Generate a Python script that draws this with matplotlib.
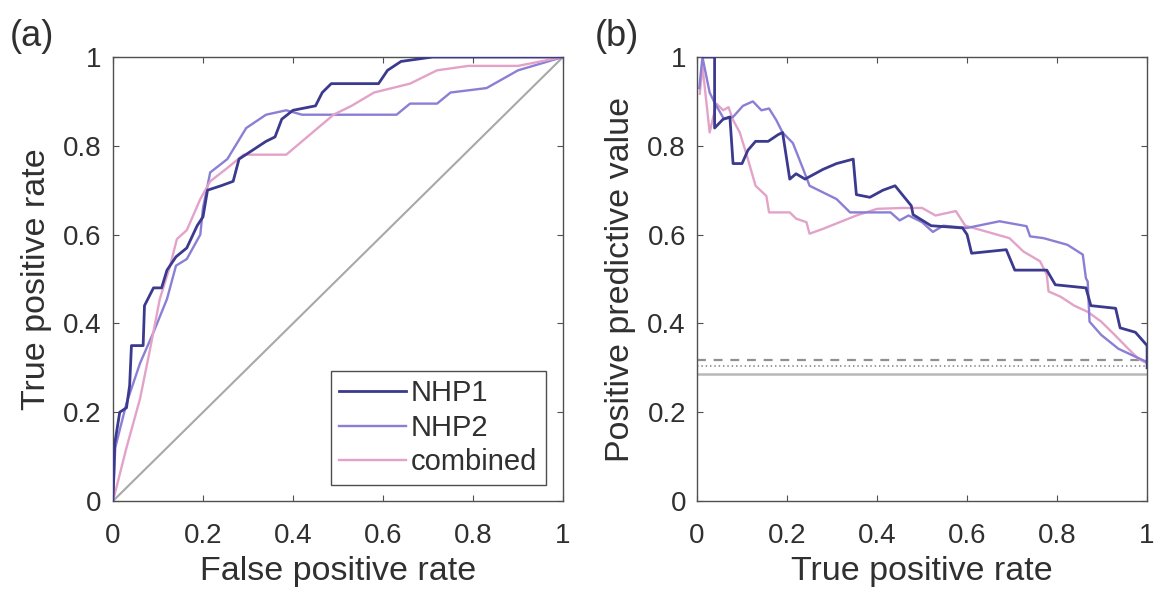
import matplotlib
matplotlib.use("Agg")
import matplotlib.pyplot as plt

plt.rcParams['font.family'] = ['Liberation Sans', 'DejaVu Sans']

# --- Data
# (a) ROC curves
fpr_nhp1 = [0, 0.004, 0.015, 0.03, 0.037, 0.041, 0.067, 0.07, 0.09, 0.108, 0.12, 0.14, 0.164,
            0.187, 0.2, 0.21, 0.24, 0.267, 0.28, 0.31, 0.34, 0.36, 0.375, 0.40, 0.45, 0.465,
            0.485, 0.59, 0.61, 0.64, 0.71, 1.0]
tpr_nhp1 = [0, 0.13, 0.2, 0.21, 0.26, 0.35, 0.35, 0.44, 0.48, 0.48, 0.52, 0.55, 0.57,
            0.62, 0.64, 0.70, 0.71, 0.72, 0.77, 0.79, 0.81, 0.82, 0.86, 0.88, 0.89, 0.92,
            0.94, 0.94, 0.97, 0.99, 1.0, 1.0]

fpr_nhp2 = [0, 0.005, 0.03, 0.06, 0.09, 0.12, 0.14, 0.164, 0.194, 0.2, 0.216, 0.254, 0.296,
            0.34, 0.385, 0.42, 0.63, 0.66, 0.72, 0.75, 0.83, 0.90, 1.0]
tpr_nhp2 = [0, 0.12, 0.22, 0.31, 0.38, 0.455, 0.53, 0.545, 0.6, 0.66, 0.74, 0.77, 0.84,
            0.87, 0.88, 0.87, 0.87, 0.895, 0.895, 0.92, 0.93, 0.97, 1.0]

fpr_comb = [0, 0.03, 0.06, 0.082, 0.104, 0.127, 0.142, 0.164, 0.194, 0.216, 0.254, 0.29,
            0.385, 0.42, 0.455, 0.49, 0.53, 0.58, 0.66, 0.72, 0.79, 0.90, 1.0]
tpr_comb = [0, 0.12, 0.23, 0.34, 0.455, 0.53, 0.59, 0.61, 0.68, 0.72, 0.75, 0.78,
            0.78, 0.81, 0.84, 0.87, 0.89, 0.92, 0.94, 0.97, 0.98, 0.98, 1.0]

# (b) precision vs recall
tpr_b_nhp1 = [0.013, 0.039, 0.039, 0.058, 0.073, 0.08, 0.1, 0.113, 0.13, 0.158, 0.18, 0.19,
              0.206, 0.22, 0.24, 0.28, 0.31, 0.347, 0.354, 0.384, 0.413, 0.44, 0.476, 0.48,
              0.52, 0.59, 0.6, 0.61, 0.687, 0.706, 0.777, 0.796, 0.864, 0.875, 0.93, 0.94,
              0.974, 1.0, 1.0]
ppv_b_nhp1 = [1.0, 1.0, 0.84, 0.86, 0.865, 0.76, 0.76, 0.79, 0.81, 0.81, 0.825, 0.83,
              0.725, 0.737, 0.725, 0.747, 0.76, 0.77, 0.69, 0.684, 0.70, 0.71, 0.665, 0.645,
              0.62, 0.615, 0.60, 0.558, 0.566, 0.52, 0.52, 0.487, 0.48, 0.44, 0.434, 0.39,
              0.38, 0.35, 0.30]

tpr_b_nhp2 = [0.005, 0.012, 0.028, 0.04, 0.06, 0.08, 0.102, 0.124, 0.143, 0.16, 0.176, 0.19,
              0.213, 0.236, 0.25, 0.28, 0.31, 0.34, 0.384, 0.43, 0.45, 0.47, 0.5, 0.524,
              0.547, 0.6, 0.672, 0.732, 0.74, 0.77, 0.823, 0.857, 0.864, 0.868, 0.872, 0.898,
              0.936, 0.974, 1.0]
ppv_b_nhp2 = [0.93, 1.0, 0.92, 0.895, 0.86, 0.865, 0.89, 0.90, 0.88, 0.884, 0.858, 0.83,
              0.806, 0.747, 0.71, 0.695, 0.68, 0.65, 0.65, 0.65, 0.632, 0.643, 0.628, 0.606,
              0.62, 0.615, 0.63, 0.619, 0.596, 0.592, 0.577, 0.555, 0.502, 0.494, 0.404, 0.374,
              0.343, 0.325, 0.313]

tpr_b_comb = [0.006, 0.012, 0.028, 0.043, 0.058, 0.07, 0.08, 0.095, 0.113, 0.13, 0.154, 0.16,
              0.206, 0.22, 0.243, 0.25, 0.28, 0.317, 0.354, 0.4, 0.457, 0.5, 0.53, 0.575,
              0.596, 0.642, 0.694, 0.725, 0.762, 0.777, 0.781, 0.808, 0.838, 0.868, 0.898,
              0.928, 0.958, 0.981, 1.0]
ppv_b_comb = [0.917, 0.98, 0.83, 0.895, 0.88, 0.887, 0.858, 0.83, 0.77, 0.71, 0.687, 0.65,
              0.65, 0.636, 0.628, 0.602, 0.613, 0.628, 0.643, 0.658, 0.66, 0.66, 0.643, 0.653,
              0.62, 0.607, 0.592, 0.562, 0.54, 0.51, 0.472, 0.46, 0.44, 0.426, 0.404,
              0.374, 0.343, 0.32, 0.31]

# chance levels (dashed, dotted, solid)
chance_levels = [0.318, 0.303, 0.287]

tick_vals = [0, 0.2, 0.4, 0.6, 0.8, 1]
tick_labels = ['0', '0.2', '0.4', '0.6', '0.8', '1']
series_names = ['NHP1', 'NHP2', 'combined']
# ---

C_NHP1 = '#3c3a8e'
C_NHP2 = '#8a7fd5'
C_COMB = '#e3a3c8'
TXT = '#303030'
EDGE = '#505050'

fig = plt.figure(figsize=(11.6, 6), dpi=100)
ax_a = fig.add_axes([0.0974, 0.165, 0.388, 0.740])
ax_b = fig.add_axes([0.6009, 0.165, 0.388, 0.740])


def style_axes(ax):
    ax.set_xlim(0, 1)
    ax.set_ylim(0, 1)
    ax.set_xticks(tick_vals)
    ax.set_yticks(tick_vals)
    ax.set_xticklabels(tick_labels)
    ax.set_yticklabels(tick_labels)
    ax.tick_params(direction='in', length=4, width=0.8, colors=EDGE, labelcolor=TXT,
                   labelsize=20, top=True, right=True, pad=8)
    ax.tick_params(axis='x', pad=16)
    for sp in ax.spines.values():
        sp.set_color(EDGE)
        sp.set_linewidth(1.0)


# (a)
ax_a.plot([0, 1], [0, 1], color='#a8a8a8', lw=1.5)
ax_a.plot(fpr_nhp2, tpr_nhp2, color=C_NHP2, lw=1.7, label=series_names[1], zorder=3)
ax_a.plot(fpr_comb, tpr_comb, color=C_COMB, lw=1.7, label=series_names[2], zorder=4)
ax_a.plot(fpr_nhp1, tpr_nhp1, color=C_NHP1, lw=2.0, label=series_names[0], zorder=5)
style_axes(ax_a)
ax_a.set_xlabel('False positive rate', fontsize=24.5, color=TXT, labelpad=5)
ax_a.set_ylabel('True positive rate', fontsize=24.5, color=TXT, labelpad=8)

handles, labels = ax_a.get_legend_handles_labels()
order = [labels.index(n) for n in series_names]
leg = ax_a.legend([handles[i] for i in order], [labels[i] for i in order],
                  loc='lower right', bbox_to_anchor=(0.962, 0.036), fontsize=21,
                  frameon=True, fancybox=False, handlelength=2.3, handletextpad=0.15,
                  borderpad=0.3, labelspacing=0.22, borderaxespad=0)
leg.get_frame().set_edgecolor('#202020')
leg.get_frame().set_linewidth(1.0)
for t in leg.get_texts():
    t.set_color(TXT)

# (b)
ax_b.axhline(chance_levels[0], color='#909090', lw=1.6, ls=(0, (4, 3.5)))
ax_b.axhline(chance_levels[1], color='#909090', lw=1.3, ls=(0, (0.8, 1.6)))
ax_b.axhline(chance_levels[2], color='#b8b8b8', lw=1.8)
ax_b.plot(tpr_b_comb, ppv_b_comb, color=C_COMB, lw=1.7, zorder=3)
ax_b.plot(tpr_b_nhp2, ppv_b_nhp2, color=C_NHP2, lw=1.7, zorder=4)
ax_b.plot(tpr_b_nhp1, ppv_b_nhp1, color=C_NHP1, lw=2.0, zorder=5)
style_axes(ax_b)
ax_b.set_xlabel('True positive rate', fontsize=24.5, color=TXT, labelpad=5)
ax_b.set_ylabel('Positive predictive value', fontsize=24.5, color=TXT, labelpad=8)

fig.text(0.008, 0.968, '(a)', fontsize=26, color=TXT, va='top', ha='left')
fig.text(0.513, 0.968, '(b)', fontsize=26, color=TXT, va='top', ha='left')

fig.savefig('out.png', dpi=100, facecolor='white')
